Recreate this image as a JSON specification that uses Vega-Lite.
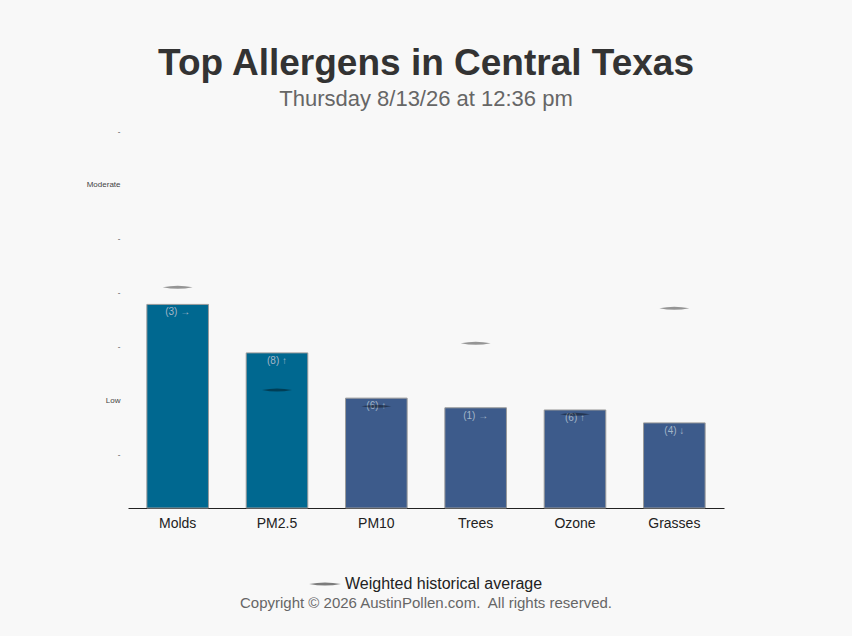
{
  "$schema": "https://vega.github.io/schema/vega-lite/v6.json",
  "autosize": {"type": "none"},
  "padding": {"left": 128, "top": 131, "right": 128, "bottom": 128},
  "width": 596,
  "height": 377,
  "background": "#f8f8f8",
  "title": {
    "text": "Top Allergens in Central Texas",
    "subtitle": "Thursday 8/13/26 at 12:36 pm",
    "anchor": "middle",
    "fontSize": 37,
    "fontWeight": "bold",
    "color": "#333333",
    "subtitleFontSize": 22,
    "subtitleColor": "#666666",
    "subtitlePadding": 6,
    "offset": 16
  },
  "data": {
    "values": [
      {"allergen": "Molds", "level": 3.78, "avg": 4.1, "trend": "(3) →", "tone": "a"},
      {"allergen": "PM2.5", "level": 2.88, "avg": 2.19, "trend": "(8) ↑", "tone": "a"},
      {"allergen": "PM10", "level": 2.04, "avg": 1.89, "trend": "(6) ↑", "tone": "b"},
      {"allergen": "Trees", "level": 1.86, "avg": 3.06, "trend": "(1) →", "tone": "b"},
      {"allergen": "Ozone", "level": 1.82, "avg": 1.74, "trend": "(6) ↑", "tone": "b"},
      {"allergen": "Grasses", "level": 1.58, "avg": 3.71, "trend": "(4) ↓", "tone": "b"}
    ]
  },
  "encoding": {
    "x": {
      "field": "allergen",
      "type": "nominal",
      "sort": null,
      "title": null,
      "scale": {"paddingInner": 0.38, "paddingOuter": 0.19},
      "axis": {
        "labelAngle": 0,
        "labelFontSize": 14,
        "labelColor": "#222222",
        "labelPadding": 8,
        "ticks": false,
        "domainColor": "#222222",
        "domainWidth": 1
      }
    }
  },
  "layer": [
    {
      "mark": {"type": "bar", "stroke": "#9a9a9a", "strokeWidth": 1},
      "encoding": {
        "y": {
          "field": "level",
          "type": "quantitative",
          "title": null,
          "scale": {"domain": [0, 7], "nice": false},
          "axis": {
            "values": [1, 2, 3, 4, 5, 6, 7],
            "labelExpr": "datum.value == 2 ? 'Low' : datum.value == 6 ? 'Moderate' : '-'",
            "labelFontSize": 8,
            "labelColor": "#444444",
            "labelPadding": 8,
            "ticks": false,
            "domain": false,
            "grid": false
          }
        },
        "color": {
          "field": "tone",
          "type": "nominal",
          "scale": {"domain": ["a", "b"], "range": ["#006890", "#3d5b8b"]},
          "legend": null
        }
      }
    },
    {
      "mark": {"type": "text", "baseline": "top", "dy": 3, "fontSize": 10, "color": "#a3b6c8"},
      "encoding": {
        "y": {"field": "level", "type": "quantitative"},
        "text": {"field": "trend"}
      }
    },
    {
      "mark": {"type": "point", "filled": true, "fill": "#000000", "opacity": 0.4, "strokeWidth": 0, "size": 900},
      "encoding": {
        "y": {"field": "avg", "type": "quantitative"},
        "shape": {
          "datum": "Weighted historical average",
          "scale": {"range": ["M-1,0Q0,-0.2,1,0Q0,0.2,-1,0Z"]},
          "legend": {
            "orient": "bottom",
            "title": "Copyright © 2026 AustinPollen.com.\u00a0 All rights reserved.",
            "titleOrient": "bottom",
            "titleAnchor": "middle",
            "titleAlign": "center",
            "titleFontSize": 15,
            "titleFontWeight": "normal",
            "titleColor": "#666666",
            "titleLimit": 600,
            "titlePadding": 4,
            "labelFontSize": 16,
            "labelColor": "#222222",
            "labelLimit": 400,
            "symbolSize": 1000,
            "symbolFillColor": "#000000",
            "symbolOpacity": 0.5,
            "symbolStrokeWidth": 0,
            "offset": 38
          }
        }
      }
    }
  ],
  "config": {
    "font": "Liberation Sans",
    "view": {"stroke": null},
    "legend": {"layout": {"bottom": {"anchor": "middle"}}}
  }
}
